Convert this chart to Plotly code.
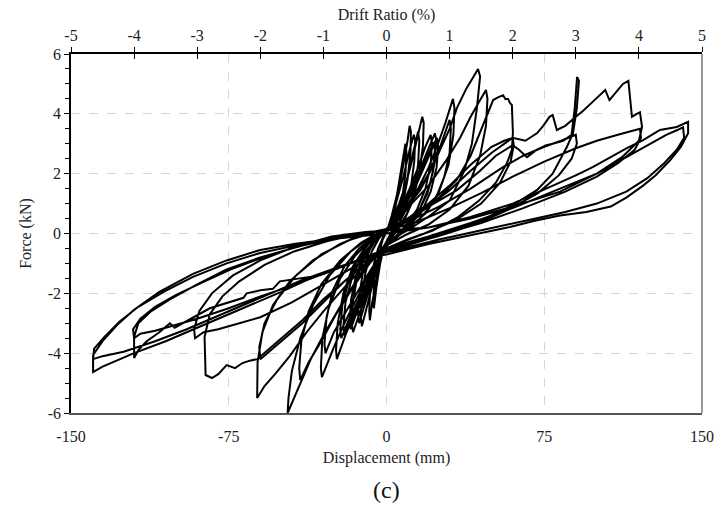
import plotly.graph_objects as go

# ---------------- data (displacement mm, force kN) ----------------
small_cycles = [
    (0,0),(2,0.3),(4,0.8),(6,1.5),(8,2.3),(10,3.1),(11,3.6),(11.6,3.4),(11.4,2.7),(10,1.8),(7.5,0.9),(4.5,0.3),(1.5,-0.1),(-1,-0.4),(-3,-0.9),(-5,-1.6),(-6.8,-2.3),(-7.9,-2.9),(-8.2,-2.6),(-7.8,-1.9),(-6.3,-1.1),(-4,-0.5),(-1.5,-0.1),(0.5,0.15),
    (2.5,0.6),(5,1.3),(7,2.1),(9,3.0),(9.5,2.7),(9,2.0),(7.5,1.2),(5,0.5),(2,0.0),(-1,-0.4),(-3,-1.0),(-4.8,-1.8),(-6,-2.5),(-6.3,-2.2),(-5.7,-1.5),(-4,-0.8),(-1.8,-0.2),(0.3,0.1),
    (2.5,0.5),(5,1.1),(8,1.9),(11,2.8),(13,3.3),(13.6,3.1),(13.2,2.4),(11.5,1.5),(8.5,0.7),(5,0.2),(1.5,-0.2),(-1.5,-0.5),(-4,-1.1),(-7,-1.8),(-9.5,-2.5),(-11.7,-3.1),(-12.2,-2.8),(-11.8,-2.1),(-10,-1.3),(-7,-0.6),(-3.5,-0.15),(0,0.1),
    (3,0.5),(6,1.0),(9,1.6),(12,2.4),(15,3.3),(17,3.9),(17.7,3.7),(17.3,2.9),(15.5,2.0),(12.5,1.1),(8.5,0.45),(4,0.0),(0,-0.35),(-3,-0.8),(-6.5,-1.4),(-10,-2.1),(-13,-2.7),(-15.9,-3.3),(-16.5,-3.0),(-16,-2.3),(-14,-1.5),(-10.5,-0.8),(-6,-0.3),(-2,0.0),(0,0.1),
    (3,0.45),(6,0.95),(9,1.6),(12,2.5),(15,3.4),(15.6,3.1),(15,2.3),(13,1.4),(10,0.7),(6,0.2),(2,-0.15),(-1,-0.4),(-4,-1.0),(-7,-1.6),(-10,-2.3),(-13,-3.0),(-13.5,-2.7),(-12.8,-2.0),(-11,-1.2),(-8,-0.55),(-4,-0.1),(0,0.1),
    (3,0.4),(7,0.9),(11,1.5),(15,2.2),(18.5,2.9),(21,3.3),(21.6,3.0),(21,2.3),(18.5,1.5),(14.5,0.8),(9,0.25),(3,-0.2),(-1,-0.45),(-4,-0.95),(-8,-1.6),(-12,-2.3),(-15,-2.8),(-17,-3.2),(-17.5,-2.9),(-16.8,-2.2),(-14.5,-1.4),(-10.5,-0.7),(-5.5,-0.2),(-1,0.05),
    (3,0.35),(7,0.8),(11,1.35),(15,2.0),(19,2.7),(23,3.35),(23.7,3.1),(23,2.4),(20.5,1.6),(16,0.85),(10,0.3),(4,-0.15),(0,-0.4),(-4,-0.95),(-9,-1.7),(-14,-2.5),(-19,-3.3),(-23.6,-4.2),(-24,-3.9),(-23.2,-3.0),(-20.5,-2.0),(-16,-1.1),(-10,-0.45),(-4,-0.05),(0,0.1),
    (3,0.35),(7,0.8),(11,1.3),(15,1.9),(19,2.5),(22.5,3.05),(23,2.8),(22.2,2.1),(19.5,1.35),(15,0.7),(9,0.2),(3,-0.2),(0,-0.4),(-4,-0.9),(-9,-1.6),(-14,-2.3),(-18,-2.9),(-21.5,-3.5),(-22,-3.2),(-21,-2.4),(-18,-1.6),(-13.5,-0.85),(-8,-0.3),(-3,0.0),(0,0.1),
    (4,0.4),(9,0.95),(14,1.6),(19,2.4),(24,3.2),(24.6,2.9),(23.8,2.2),(21,1.4),(16.5,0.7),(10,0.2),(3,-0.2),(0,-0.4),(-5,-1.0),(-10,-1.8),(-15,-2.6),(-20,-3.4),(-20.5,-3.1),(-19.5,-2.3),(-16.5,-1.5),(-12,-0.8),(-6,-0.25),(0,0.1),
]

drift_1_cycles = [
    (4,0.4),(10,0.95),(15,1.5),(20,2.2),(24,2.9),(28,3.7),(31.6,4.5),(32.3,4.2),(31.8,3.3),(29.5,2.3),(25,1.4),(19,0.7),(11,0.2),(4,-0.15),(0,-0.4),(-5,-1.0),(-10,-1.6),(-15,-2.3),(-20,-3.0),(-25,-3.8),(-30.7,-4.8),(-31.2,-4.5),(-30.5,-3.5),(-27.5,-2.5),(-22,-1.5),(-15,-0.75),(-8,-0.25),(-2,0.05),
    (5,0.45),(10,0.9),(15,1.4),(20,2.0),(25,2.8),(30,3.8),(30.6,3.5),(30,2.7),(27.5,1.9),(23,1.1),(16,0.5),(8,0.05),(1,-0.35),(-5,-0.95),(-10,-1.5),(-15,-2.1),(-20,-2.7),(-25,-3.3),(-29,-4.0),(-29.5,-3.7),(-28.5,-2.8),(-25.5,-1.9),(-20,-1.1),(-13,-0.5),(-6,-0.1),(0,0.1),
]

drift_15_cycles = [
    (5,0.45),(10,0.9),(16,1.45),(21,2.1),(25.5,2.8),(30,3.5),(33.5,4.2),(38,4.85),(41,5.2),(43.5,5.5),(44.5,5.25),(43,4.2),(40.6,3.0),(37,2.1),(30,1.1),(20.7,0.6),(10,0.1),(1.7,-0.2),(-3,-0.55),(-10,-1.1),(-20,-2.2),(-30,-3.4),(-36,-4.2),(-41,-5.0),(-47,-6.0),(-46.6,-5.5),(-45,-4.6),(-41,-3.5),(-35,-2.4),(-27,-1.4),(-17,-0.6),(-7,-0.1),(0,0.1),
    (5,0.4),(12,1.0),(20,1.6),(28,2.4),(35,3.2),(40,3.9),(44,4.4),(47.3,4.8),(48,4.5),(47.3,3.6),(44.5,2.6),(39,1.6),(30,0.8),(20,0.3),(9,-0.05),(0,-0.4),(-8,-1.0),(-16,-1.8),(-24,-2.7),(-31,-3.6),(-37,-4.3),(-41,-4.9),(-41.5,-4.5),(-40.5,-3.6),(-37,-2.6),(-31,-1.7),(-22,-0.9),(-12,-0.3),(-3,0.05),
]

drift_2_cycles = [
    (0,0.05),(8,0.4),(16,0.8),(25,1.2),(33.5,1.8),(40,2.6),(44.5,3.36),(48,4.0),(50.7,4.46),(53,4.55),(55.4,4.62),(56.5,4.5),(57.8,4.5),(58.8,4.35),(59.6,4.3),(60.1,3.36),(59.6,2.8),(57.3,2.36),(52,1.7),(44,1.1),(34,0.55),(22,0.1),(10,-0.2),(0,-0.5),(-10,-1.05),(-20,-1.8),(-30,-2.6),(-38,-3.3),(-46,-4.1),(-53,-4.7),(-58,-5.1),(-61.5,-5.5),(-61.3,-4.3),(-59,-3.3),(-54,-2.4),(-46,-1.6),(-35,-0.9),(-22,-0.35),(-10,0.0),(0,0.15),
    (10,0.5),(20,1.0),(30,1.6),(40,2.3),(50,2.9),(56,3.1),(60,3.2),(60.5,2.95),(59,2.4),(54,1.7),(45,1.0),(33,0.45),(18,0.0),(5,-0.35),(0,-0.5),(-10,-1.0),(-20,-1.6),(-30,-2.3),(-40,-3.0),(-50,-3.6),(-56,-3.95),(-60,-4.2),(-60.5,-3.8),(-58,-3.0),(-52,-2.2),(-43,-1.4),(-31,-0.7),(-17,-0.2),(-5,0.05),(0,0.1),
]

drift_3_cycles = [
    (10,0.45),(20,0.9),(33.5,1.45),(44.5,2.1),(52,2.6),(60,2.95),(63,2.8),(66.8,2.55),(71.5,2.8),(76,2.95),(79,3.0),(84,3.1),(88,3.3),(89.5,4.2),(90.6,5.23),(91.5,5.1),(90.5,4.2),(88.7,3.36),(85.8,2.9),(79,2.0),(71.5,1.45),(60,0.95),(45,0.45),(28,0.0),(12,-0.35),(0,-0.6),
    (-10,-1.0),(-20,-1.6),(-30,-2.2),(-40,-2.9),(-50,-3.5),(-55,-3.8),(-61.5,-4.2),(-65,-4.25),(-68.5,-4.33),(-72,-4.5),(-76,-4.4),(-80,-4.7),(-83,-4.83),(-86,-4.73),(-86.5,-3.46),(-84,-2.7),(-78,-2.1),(-70,-1.6),(-58,-1.05),(-44,-0.6),(-28,-0.25),(-12,0.0),(0,0.1),
    (10,0.4),(25,0.9),(40,1.5),(55,2.2),(65,2.6),(75,2.9),(83,3.1),(88,3.25),(90,3.3),(90.5,3.0),(88,2.5),(82,1.95),(72,1.35),(58,0.8),(42,0.3),(24,-0.1),(8,-0.4),(0,-0.55),
    (-15,-1.1),(-30,-1.7),(-45,-2.3),(-60,-2.8),(-70,-3.0),(-80,-3.2),(-87,-3.3),(-91,-3.5),(-91.5,-3.2),(-89,-2.6),(-83,-2.0),(-73,-1.4),(-60,-0.9),(-44,-0.45),(-26,-0.1),(-10,0.05),(0,0.1),
]

drift_4_cycles = [
    (10,0.4),(20,0.9),(30,1.45),(40,2.1),(50,2.7),(60,3.2),(66,3.1),(71.5,3.35),(74.5,3.6),(77.5,3.9),(79,3.96),(81,3.46),(85,3.6),(90,3.9),(93.5,4.1),(98,4.4),(101,4.6),(104,4.8),(106,4.46),(109,4.7),(112.4,5.0),(115,5.1),
    (116.7,3.9),(119,4.0),(120.5,4.05),(121.5,3.56),(120,3.1),(112,2.55),(100,2.0),(82.5,1.5),(60,0.85),(40,0.35),(20,-0.1),(0,-0.5),
    (-15,-0.95),(-31.6,-1.4),(-50.7,-1.6),(-54,-1.85),(-60,-1.9),(-66.5,-2.0),(-68,-2.15),(-84,-2.5),(-87,-2.62),(-95,-2.95),(-100.7,-3.15),(-103,-3.0),(-108,-3.3),(-114,-3.6),(-118,-3.9),(-120,-4.16),
    (-120,-3.46),(-118,-3.0),(-112,-2.6),(-103,-2.2),(-90,-1.7),(-76,-1.2),(-60,-0.8),(-40,-0.4),(-20,-0.1),(0,0.1),
    (15,0.4),(30,0.85),(45,1.35),(60,1.9),(75,2.4),(90,2.85),(100,3.1),(110,3.3),(116,3.4),(120.5,3.5),(121,3.2),(118,2.8),(110,2.35),(100,1.9),(85,1.4),(65,0.85),(45,0.35),(25,-0.05),(8,-0.4),(0,-0.55),
    (-15,-0.95),(-30,-1.35),(-45,-1.75),(-60,-2.1),(-75,-2.5),(-90,-2.85),(-100,-3.05),(-110,-3.25),(-117,-3.35),(-120,-3.5),(-120.5,-3.2),(-117,-2.85),(-110,-2.45),(-100,-2.05),(-88,-1.65),(-74,-1.2),(-57,-0.75),(-38,-0.35),(-18,-0.05),(0,0.1),
]

drift_5_cycles = [
    (20,0.2),(40,0.55),(60,1.0),(82.5,1.69),(90.5,1.96),(98,2.22),(106.5,2.56),(114.5,2.86),(122,3.12),(130,3.46),(138,3.56),(143.4,3.73),
    (143.4,3.35),(140,2.9),(135,2.46),(128,1.95),(122,1.6),(114,1.2),(106.6,0.9),(95,0.72),(82.5,0.6),(70,0.42),(58.7,0.22),(40,-0.05),(20,-0.35),(0,-0.7),
    (-10,-0.8),(-30,-1.3),(-50,-1.95),(-70,-2.55),(-88,-3.1),(-105,-3.6),(-120,-4.0),(-128,-4.25),(-135,-4.45),(-139.5,-4.63),
    (-139.5,-4.06),(-135,-3.6),(-128,-3.05),(-120,-2.55),(-108,-1.95),(-92,-1.35),(-76,-0.9),(-60,-0.55),(-44,-0.35),(-28,-0.2),(-12.6,-0.1),(0,0.0),
    (20,0.2),(40,0.5),(60,0.9),(82.5,1.4),(100,2.0),(115,2.6),(125,3.0),(133,3.3),(138,3.45),(141,3.55),
    (141.5,3.2),(138,2.8),(132,2.35),(124,1.85),(114,1.4),(100,1.0),(85,0.72),(65,0.42),(45,0.12),(25,-0.2),(5,-0.55),(0,-0.62),
    (-20,-1.05),(-40,-1.55),(-60,-2.15),(-80,-2.75),(-95,-3.2),(-110,-3.6),(-125,-3.95),(-135,-4.1),(-139.5,-4.2),
    (-139,-3.85),(-134,-3.45),(-127,-2.95),(-118,-2.45),(-106,-1.95),(-92,-1.45),(-76,-1.0),(-60,-0.65),(-42,-0.38),(-22,-0.15),(0,0.0),
]

x_ticks_mm = [-150, -75, 0, 75, 150]
drift_ticks = [-5, -4, -3, -2, -1, 0, 1, 2, 3, 4, 5]
y_ticks = [-6, -4, -2, 0, 2, 4, 6]
mm_per_percent = 30  # 150 mm <-> 5 % drift

# ---------------- assemble ----------------
history = small_cycles + drift_1_cycles + drift_15_cycles + drift_2_cycles + drift_3_cycles + drift_4_cycles + drift_5_cycles
disp = [p[0] for p in history]
force = [p[1] for p in history]
drift = [d / mm_per_percent for d in disp]

def lab(v):
    return str(v)  # plain hyphen-minus like the original

FONT = "Times New Roman, Liberation Serif, DejaVu Serif, serif"
TICKSIZE = 16

fig = go.Figure()
fig.add_trace(go.Scatter(x=disp, y=force, mode="lines",
                         line=dict(color="black", width=2.0),
                         hoverinfo="skip", showlegend=False))
# same curve on the drift-ratio axes (invisible) so the top axes are active
fig.add_trace(go.Scatter(x=drift, y=force, mode="lines", xaxis="x2",
                         line=dict(color="rgba(0,0,0,0)", width=0),
                         hoverinfo="skip", showlegend=False))
fig.add_trace(go.Scatter(x=drift, y=force, mode="lines", xaxis="x3",
                         line=dict(color="rgba(0,0,0,0)", width=0),
                         hoverinfo="skip", showlegend=False))

fig.update_layout(
    width=717, height=519,
    margin=dict(l=71, r=15, t=54, b=106),
    paper_bgcolor="white", plot_bgcolor="white",
    font=dict(family=FONT, color="#222", size=TICKSIZE),
    xaxis=dict(range=[-150, 150], tickvals=x_ticks_mm, ticktext=[lab(v) for v in x_ticks_mm],
               ticks="", automargin=False, ticklabelstandoff=8,
               showline=True, linecolor="#555", linewidth=1.5,
               showgrid=True, gridcolor="#d6d6d6", griddash="dash", gridwidth=1,
               zeroline=False, tickfont=dict(size=TICKSIZE, family=FONT),
               title=dict(text="Displacement (mm)", font=dict(size=TICKSIZE, family=FONT), standoff=8)),
    xaxis2=dict(range=[-5, 5], tickvals=drift_ticks, ticktext=[lab(v) for v in drift_ticks],
                overlaying="x", side="top", anchor="y", automargin=False,
                ticks="outside", ticklen=5, tickwidth=1.2, tickcolor="black",
                showline=True, linecolor="black", linewidth=1.5, showgrid=False, zeroline=False,
                tickfont=dict(size=TICKSIZE, family=FONT),
                title=dict(text="Drift Ratio (%)", font=dict(size=TICKSIZE, family=FONT), standoff=2)),
    xaxis3=dict(range=[-5, 5], tickvals=drift_ticks, overlaying="x", side="top", anchor="y",
                automargin=False, ticks="inside", ticklen=5, tickwidth=1.2, tickcolor="black",
                showticklabels=False, showline=False, showgrid=False, zeroline=False),
    yaxis=dict(range=[-6, 6], tickvals=y_ticks, ticktext=[lab(v) for v in y_ticks],
               ticks="outside", ticklen=5, tickwidth=1.2, automargin=False,
               tickcolor="black", showline=True, linecolor="black", linewidth=1.5,
               showgrid=True, gridcolor="#d6d6d6", griddash="dash", gridwidth=1,
               zeroline=False, tickfont=dict(size=TICKSIZE, family=FONT),
               minor=dict(dtick=0.5, ticks="outside", ticklen=4, tickcolor="black", showgrid=False),
               title=dict(text="Force (kN)", font=dict(size=TICKSIZE, family=FONT), standoff=12)),
    shapes=[dict(type="line", xref="paper", yref="paper", x0=1, x1=1, y0=0, y1=1,
                 line=dict(color="#777", width=1.5))],
    annotations=[dict(text="(c)", xref="paper", yref="paper", x=0.5, y=-0.215,
                      showarrow=False, font=dict(size=24, family=FONT, color="#111"),
                      xanchor="center", yanchor="middle")],
)

fig.write_html("out.html")
